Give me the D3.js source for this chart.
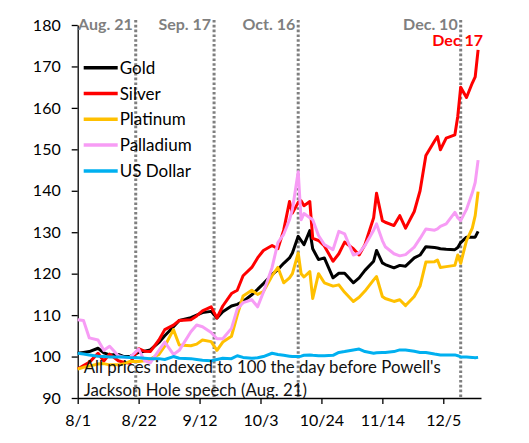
<!DOCTYPE html>
<html lang="en">
<head>
<meta charset="UTF-8">
<script src="https://d3js.org/d3.v7.min.js"></script>
<title>Precious metals since Jackson Hole</title>
<style>
  body { margin: 0; background: #fff; }
  svg { display: block; font-family: Lato, "Open Sans", sans-serif; }
</style>
</head>
<body>
<div id="chart"></div>
<script>
// trading days (2025)
const dates = [
  "08-01","08-03","08-05","08-08","08-10","08-12","08-15","08-17","08-19","08-22",
  "08-24","08-26","08-29","08-31","09-03","09-05","09-09","09-11","09-13","09-16",
  "09-18","09-20","09-23","09-25","09-27","09-30","10-02","10-04","10-07","10-09",
  "10-11","10-13","10-14","10-16","10-17","10-18","10-20","10-21","10-23","10-25",
  "10-28","10-30","11-01","11-04","11-06","11-08","11-11","11-12","11-14","11-15",
  "11-18","11-20","11-22","11-25","11-27","11-29","12-02","12-03","12-04","12-06",
  "12-09","12-10","12-11","12-13","12-15","12-16","12-17"
];

const gold = [
  100.8,101.0,101.2,102.0,100.9,100.4,100.5,100.0,100.0,101.0,
  101.3,101.6,103.4,105.0,107.2,108.7,109.4,110.0,110.6,110.9,
  109.3,110.8,112.2,112.6,113.3,114.9,116.2,117.6,119.8,121.0,
  122.5,123.8,125.0,129.0,128.0,127.0,130.4,126.0,123.4,123.8,
  119.0,120.1,120.1,117.8,119.0,120.8,123.0,125.6,122.6,122.2,
  121.4,122.0,121.8,123.8,124.5,126.5,126.3,126.2,126.0,125.9,
  125.8,126.3,127.5,128.8,128.8,128.8,130.2
];
const silver = [
  97.0,97.8,98.6,100.8,98.9,100.6,99.0,98.6,98.4,101.9,
  101.3,101.2,104.0,106.5,107.6,108.7,108.9,109.8,111.0,112.0,
  109.3,112.2,115.2,116.0,119.5,121.5,123.8,125.6,126.8,126.0,
  130.5,137.4,134.6,137.2,137.6,136.4,137.4,128.5,128.0,126.7,
  123.0,124.8,127.6,126.0,124.5,127.0,133.5,139.4,132.8,132.4,
  131.6,134.0,131.0,135.0,140.0,148.5,152.0,153.1,149.9,152.7,
  153.5,158.0,165.0,162.5,166.0,167.5,174.0
];
const platinum = [
  97.0,97.4,97.7,98.2,98.3,98.0,98.0,98.3,98.8,98.8,
  99.0,99.4,100.5,102.5,106.5,102.8,102.6,103.0,104.0,103.6,
  101.5,103.5,104.9,110.0,114.6,116.0,115.0,115.7,119.5,121.5,
  117.8,119.0,120.0,125.0,120.0,119.2,120.5,114.0,120.0,117.8,
  117.0,117.3,115.5,113.3,114.3,115.8,118.5,119.3,114.5,114.0,
  113.3,113.7,112.3,114.5,117.0,122.8,122.9,123.3,121.5,121.7,
  122.0,124.5,122.5,128.0,131.0,134.0,139.8
];
const palladium = [
  108.9,108.7,104.5,104.0,101.5,102.5,100.2,99.8,99.8,101.8,
  99.0,98.5,101.5,103.5,100.5,101.5,106.0,107.6,107.2,105.8,
  104.3,104.3,106.8,111.5,113.0,113.7,112.0,115.5,121.5,127.5,
  129.5,133.0,135.5,144.6,133.0,134.5,133.5,133.0,129.2,127.0,
  125.8,130.2,129.6,124.5,125.0,126.8,130.5,132.0,128.0,126.5,
  124.8,124.3,124.6,126.4,128.5,130.8,130.5,130.8,131.4,132.0,
  134.8,133.5,132.8,135.5,139.5,142.0,147.4
];
const usDollar = [
  100.8,100.6,100.4,100.1,100.0,99.9,99.9,99.9,99.8,99.7,
  99.6,99.5,99.5,99.3,100.0,99.6,99.5,99.3,99.1,99.0,
  99.3,99.6,99.5,100.2,99.8,99.6,99.7,100.0,100.8,100.5,
  100.3,100.1,100.0,100.0,100.1,100.3,100.4,100.3,100.2,100.2,
  100.3,101.0,101.2,101.6,101.8,101.2,100.8,100.9,101.0,101.0,
  101.2,101.6,101.6,101.3,101.0,101.0,100.6,100.5,100.4,100.4,
  100.4,100.2,99.9,99.9,99.8,99.7,99.8
];

const seriesNames = ["Gold", "Silver", "Platinum", "Palladium", "US Dollar"];
const seriesColors = ["#000000", "#ff0000", "#ffc000", "#f79cf5", "#00b0f0"];
const seriesValues = [gold, silver, platinum, palladium, usDollar];

const xTicks = ["08-01", "08-22", "09-12", "10-03", "10-24", "11-14", "12-05"];
const yTicks = [90, 100, 110, 120, 130, 140, 150, 160, 170, 180];

const eventLabels = ["Aug. 21", "Sep. 17", "Oct. 16", "Dec. 10"];
const eventDates = ["08-21", "09-17", "10-16", "12-11"];

const noteLines = ["All prices indexed to 100 the day before Powell's", "Jackson Hole speech (Aug. 21)"];

const parse = s => d3.timeParse("%Y-%m-%d")("2025-" + s);

const svg = d3.select("#chart").append("svg").attr("width", 529).attr("height", 443);
const margin = { top: 25, right: 48, bottom: 45, left: 77.7 };
const width = 529 - margin.left - margin.right;
const height = 443 - margin.top - margin.bottom;
const chart = svg.append("g").attr("transform", `translate(${margin.left},${margin.top})`);

const x = d3.scaleTime().domain([parse("08-01"), parse("12-18")]).range([0, width]);
const y = d3.scaleLinear().domain([90, 180]).range([height, 0]);

// axes
const yAxis = chart.append("g")
  .call(d3.axisLeft(y).tickValues(yTicks).tickSize(6).tickSizeOuter(0).tickPadding(11));
const xAxis = chart.append("g").attr("transform", `translate(0,${height})`)
  .call(d3.axisBottom(x).tickValues(xTicks.map(parse)).tickSize(6).tickSizeOuter(0).tickPadding(11)
    .tickFormat(d3.timeFormat("%-m/%-d")));
[xAxis, yAxis].forEach(a => {
  a.selectAll("path, line").attr("stroke", "#000").attr("stroke-width", 1.3);
  a.selectAll("text").attr("font-size", 16).attr("fill", "#000").attr("font-family", "Lato, sans-serif");
});

// event markers
const events = chart.append("g");
eventDates.forEach((d, i) => {
  const ex = x(parse(d));
  events.append("line")
    .attr("x1", ex).attr("x2", ex).attr("y1", -5).attr("y2", height)
    .attr("stroke", "#7f7f7f").attr("stroke-width", 3).attr("stroke-dasharray", "2.6 2.2");
  events.append("text")
    .attr("x", ex - 3).attr("y", 5).attr("text-anchor", "end")
    .attr("font-size", 16).attr("font-weight", "bold").attr("fill", "#7f7f7f")
    .text(eventLabels[i]);
});

// series
const line = d3.line().x((d, i) => x(parse(dates[i]))).y(d => y(d));
seriesValues.forEach((vals, i) => {
  chart.append("path").datum(vals)
    .attr("fill", "none")
    .attr("stroke", seriesColors[i])
    .attr("stroke-width", 3)
    .attr("stroke-linejoin", "round")
    .attr("d", line);
});

// end label for silver
chart.append("text")
  .attr("x", x(parse(dates[dates.length - 1])) + 5).attr("y", 21)
  .attr("text-anchor", "end").attr("font-size", 16).attr("font-weight", "bold")
  .attr("fill", "#ff0000").text("Dec 17");

// legend
const legend = chart.append("g").attr("transform", "translate(6,42.7)");
seriesNames.forEach((name, i) => {
  const g = legend.append("g").attr("transform", `translate(0,${i * 25.8})`);
  g.append("line").attr("x1", 0).attr("x2", 34).attr("stroke", seriesColors[i]).attr("stroke-width", 3.5);
  g.append("text").attr("x", 36).attr("y", 6).attr("font-size", 17).attr("fill", "#000").text(name);
});

// note
const note = chart.append("text").attr("x", 6).attr("y", 347.5).attr("font-size", 16.8).attr("fill", "#111");
noteLines.forEach((t, i) => {
  note.append("tspan").attr("x", 6).attr("dy", i === 0 ? 0 : 23).text(t);
});
</script>
</body>
</html>
